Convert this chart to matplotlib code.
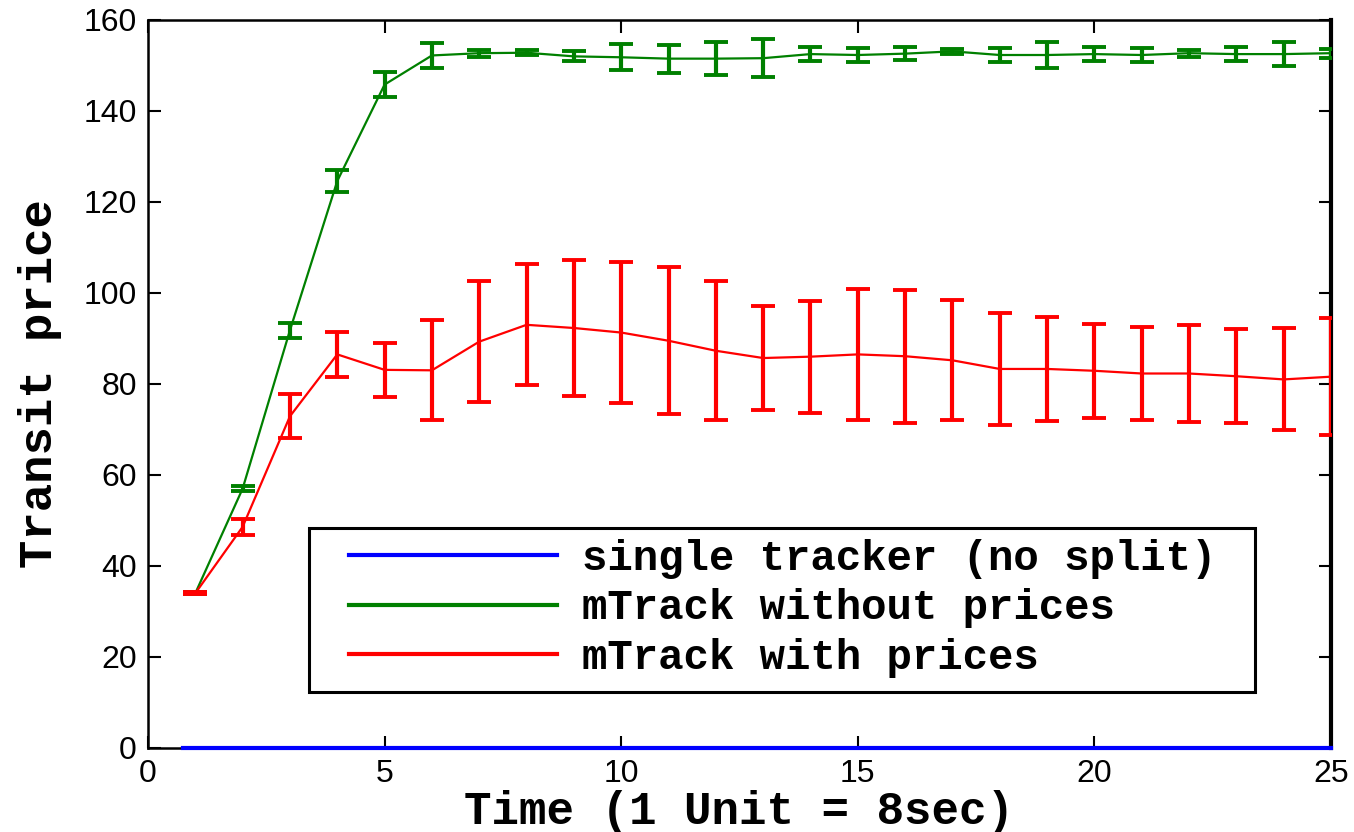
import matplotlib
matplotlib.use("Agg")
import matplotlib.pyplot as plt
from matplotlib.lines import Line2D
from matplotlib.patches import Rectangle
import numpy as np

# time steps (1 unit = 8 sec)
t = np.arange(1, 26)

# single tracker stays at zero the whole run
single_x = [0.75, 25]
single_y = [0, 0]

# mTrack without prices: mean and std
green_mean = [34, 57, 91.8, 124.6, 145.8, 152.2, 152.7, 152.8, 152.0, 151.8,
              151.5, 151.5, 151.6, 152.5, 152.3, 152.6, 153.1, 152.3, 152.3, 152.5,
              152.3, 152.7, 152.5, 152.5, 152.7]
green_err = [0.2, 0.5, 1.7, 2.4, 2.8, 2.8, 0.8, 0.5, 1.1, 2.9,
             3.1, 3.7, 4.2, 1.6, 1.5, 1.5, 0.5, 1.5, 2.9, 1.5,
             1.6, 0.8, 1.5, 2.7, 1.0]

# mTrack with prices: mean and std
red_mean = [34, 48.6, 72.9, 86.5, 83.1, 83.0, 89.3, 93.0, 92.3, 91.3,
            89.5, 87.3, 85.7, 86.0, 86.5, 86.1, 85.2, 83.3, 83.3, 82.9,
            82.3, 82.3, 81.7, 81.0, 81.6]
red_err = [0.2, 1.7, 4.8, 4.9, 6.0, 11.0, 13.3, 13.3, 14.9, 15.4,
           16.2, 15.3, 11.5, 12.3, 14.4, 14.6, 13.2, 12.3, 11.4, 10.3,
           10.3, 10.6, 10.3, 11.2, 12.9]

labels = ["single tracker (no split)", "mTrack without prices", "mTrack with prices"]
colors = ["#0000ff", "#008000", "#ff0000"]
mono = ["Liberation Mono", "DejaVu Sans Mono"]

fig = plt.figure(figsize=(13.54, 8.32), dpi=100)
ax = fig.add_axes([0.1093, 0.101, 0.8737, 0.875])

ax.plot(single_x, single_y, color=colors[0], lw=3, zorder=6, clip_on=False)
ax.errorbar(t, green_mean, yerr=green_err, color=colors[1], lw=1.6,
            elinewidth=3, capsize=8.3, capthick=2.8, zorder=3)
ax.errorbar(t, red_mean, yerr=red_err, color=colors[2], lw=1.6,
            elinewidth=3, capsize=8.3, capthick=2.8, zorder=4)

ax.set_xlim(0, 25)
ax.set_ylim(0, 160)
ax.set_xticks(range(0, 26, 5))
ax.set_yticks(range(0, 161, 20))
ax.tick_params(direction="in", length=9, width=1.5, top=True, right=True,
               labelsize=23, pad=8)
for lab in ax.get_xticklabels() + ax.get_yticklabels():
    lab.set_family(["Liberation Sans", "DejaVu Sans"])
for s in ["left", "top", "bottom"]:
    ax.spines[s].set_linewidth(1.8)
ax.spines["right"].set_linewidth(3)

ax.set_xlabel("Time (1 Unit = 8sec)", family=mono, weight="bold", fontsize=33)
ax.xaxis.label.set_verticalalignment("baseline")
ax.xaxis.set_label_coords(0.5, -0.1045)
ax.set_ylabel("Transit price", family=mono, weight="bold", fontsize=34)
ax.yaxis.label.set_verticalalignment("center")
ax.yaxis.set_label_coords(-0.091, 0.5)

# legend box with plain line samples
ax.add_patch(Rectangle((0.136, 0.077), 0.8, 0.225, transform=ax.transAxes,
                       facecolor="white", edgecolor="black", lw=2.2, zorder=7))
handles = [Line2D([], [], color=c, lw=3) for c in colors]
leg = ax.legend(handles, labels, loc="upper left", bbox_to_anchor=(0.170, 0.287),
                frameon=False, prop={"family": mono, "weight": "bold", "size": 30.5},
                handlelength=4.9, handletextpad=0.6, labelspacing=0.22,
                borderpad=0, borderaxespad=0)
leg.set_zorder(8)

fig.savefig("out.png", dpi=100, facecolor="white")
